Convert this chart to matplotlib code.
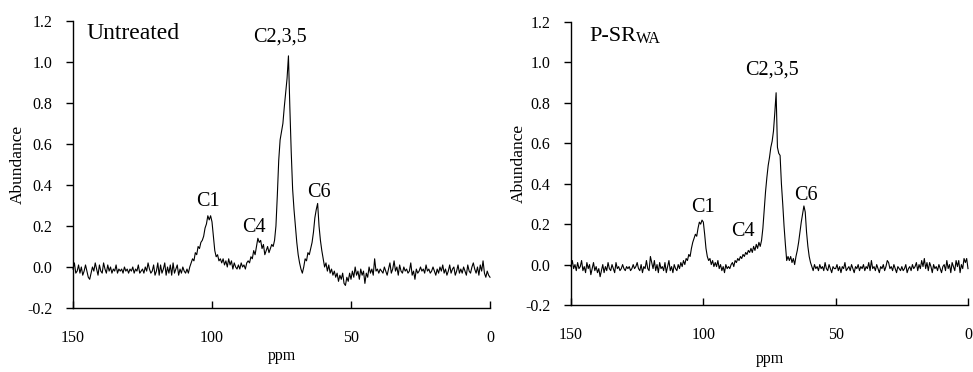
import numpy as np
import matplotlib
matplotlib.use('Agg')
import matplotlib.pyplot as plt
from matplotlib.ticker import FormatStrFormatter

plt.rcParams['font.family'] = 'Liberation Serif'
plt.rcParams['axes.unicode_minus'] = False

# chemical shift grid, 150 -> 0 ppm every 0.5 ppm
ppm = np.linspace(150, 0, 301)

# Untreated spectrum (150 ... 0 ppm)
untreated = [
    -0.01, 0.02, -0.03, -0.02, 0.01, -0.03, 0.00, -0.04, -0.02, 0.01,
    -0.02, -0.05, -0.06, -0.03, 0.00, -0.02, 0.02, -0.01, -0.04, 0.01,
    -0.02, -0.03, 0.02, -0.01, -0.03, 0.01, -0.02, 0.00, -0.03, -0.01,
    -0.02, 0.01, -0.03, -0.01, -0.02, -0.01, -0.03, 0.00, -0.02, -0.01,
    -0.03, -0.01, -0.02, 0.00, -0.03, -0.01, -0.02, 0.01, -0.03, -0.02,
    -0.01, -0.03, 0.00, -0.02, 0.02, -0.01, -0.03, -0.02, 0.01, -0.04,
    -0.02, 0.02, -0.04, 0.01, -0.03, -0.01, 0.02, -0.04, 0.00, -0.03,
    0.01, -0.04, 0.02, -0.03, -0.01, 0.01, -0.04, -0.01, -0.03, 0.00,
    -0.02, -0.03, -0.01, -0.03, 0.00, 0.02, 0.04, 0.03, 0.07, 0.06,
    0.10, 0.09, 0.12, 0.13, 0.15, 0.19, 0.21, 0.25, 0.23, 0.25,
    0.22, 0.15, 0.08, 0.05, 0.06, 0.03, 0.04, 0.02, 0.04, 0.01,
    0.03, 0.00, 0.04, 0.01, 0.03, -0.01, 0.02, 0.00, -0.01, 0.01,
    -0.01, 0.02, 0.00, 0.01, -0.01, 0.02, 0.03, 0.02, 0.05, 0.04,
    0.08, 0.06, 0.10, 0.14, 0.12, 0.13, 0.09, 0.11, 0.06, 0.08,
    0.10, 0.07, 0.09, 0.11, 0.10, 0.13, 0.20, 0.35, 0.52, 0.62,
    0.66, 0.70, 0.78, 0.85, 0.92, 1.03, 0.78, 0.56, 0.38, 0.28,
    0.20, 0.12, 0.06, 0.02, -0.01, -0.03, 0.00, 0.04, 0.03, 0.07,
    0.06, 0.09, 0.12, 0.17, 0.24, 0.28, 0.31, 0.20, 0.13, 0.08,
    0.04, 0.00, 0.02, -0.02, 0.01, -0.03, -0.01, -0.04, -0.02, -0.05,
    -0.03, -0.07, -0.04, -0.06, -0.03, -0.08, -0.09, -0.05, -0.07, -0.03,
    -0.06, -0.02, -0.05, 0.00, -0.04, -0.02, -0.06, -0.01, -0.04, -0.02,
    -0.08, -0.03, -0.05, 0.00, -0.03, -0.01, -0.04, 0.04, -0.02, -0.01,
    -0.03, -0.01, -0.02, -0.03, 0.00, -0.02, -0.04, -0.01, 0.02, -0.03,
    -0.01, 0.03, -0.02, 0.00, -0.04, 0.01, -0.02, -0.03, 0.00, -0.02,
    -0.01, -0.03, -0.02, 0.02, -0.04, -0.02, -0.06, -0.01, -0.03, -0.02,
    0.00, -0.02, -0.01, -0.03, 0.01, -0.02, -0.01, -0.03, -0.02, 0.00,
    -0.02, -0.04, -0.01, -0.03, 0.00, -0.02, 0.01, -0.03, -0.01, -0.04,
    -0.02, 0.01, -0.03, -0.01, 0.00, -0.04, -0.02, 0.01, -0.03, -0.01,
    -0.03, 0.00, -0.02, -0.04, 0.01, -0.02, -0.03, 0.00, 0.02, -0.01,
    -0.03, 0.00, -0.04, 0.01, -0.02, 0.03, -0.03, -0.05, -0.02, -0.04,
    -0.05,
]

# P-SR_WA spectrum (150 ... 0 ppm)
psr_wa = [
    -0.01, 0.02, -0.02, 0.00, -0.03, 0.01, -0.02, -0.01, 0.02, -0.03,
    -0.01, -0.04, 0.01, -0.02, 0.00, -0.05, -0.02, 0.01, -0.03, -0.01,
    -0.04, -0.02, -0.06, -0.03, 0.00, -0.04, -0.01, -0.03, 0.01, -0.02,
    -0.03, 0.00, -0.02, -0.04, 0.01, -0.02, -0.01, -0.03, -0.02, 0.00,
    -0.02, -0.03, -0.01, -0.02, -0.01, -0.03, -0.02, 0.00, -0.02, -0.01,
    0.01, -0.02, -0.03, 0.00, -0.04, -0.01, -0.02, 0.02, -0.02, -0.03,
    0.04, 0.01, -0.02, 0.02, -0.03, 0.00, -0.04, 0.01, -0.02, -0.01,
    -0.03, 0.01, -0.04, -0.01, 0.02, -0.03, -0.01, -0.04, 0.00, -0.02,
    -0.03, 0.00, -0.02, 0.01, -0.01, 0.02, 0.00, 0.03, 0.02, 0.05,
    0.04, 0.08, 0.11, 0.13, 0.15, 0.14, 0.18, 0.21, 0.20, 0.22,
    0.21, 0.15, 0.08, 0.04, 0.02, 0.03, 0.00, 0.02, -0.01, 0.01,
    -0.01, 0.02, -0.02, 0.00, -0.03, -0.01, -0.04, 0.00, -0.02, -0.01,
    -0.02, 0.00, 0.01, -0.01, 0.02, 0.01, 0.03, 0.02, 0.04, 0.03,
    0.05, 0.04, 0.06, 0.05, 0.07, 0.06, 0.08, 0.06, 0.09, 0.07,
    0.10, 0.08, 0.11, 0.09, 0.12, 0.18, 0.27, 0.36, 0.43, 0.49,
    0.53, 0.58, 0.61, 0.66, 0.75, 0.85, 0.58, 0.55, 0.54, 0.40,
    0.30, 0.19, 0.10, 0.02, 0.04, 0.02, 0.04, 0.01, 0.03, 0.00,
    0.04, 0.07, 0.11, 0.16, 0.21, 0.25, 0.29, 0.26, 0.16, 0.09,
    0.04, 0.01, -0.01, -0.03, 0.00, -0.02, -0.01, -0.03, 0.00, -0.02,
    -0.01, -0.03, 0.01, -0.02, -0.03, 0.00, -0.02, -0.04, -0.01, -0.02,
    -0.02, 0.00, -0.03, -0.01, -0.04, -0.01, -0.02, 0.01, -0.03, -0.02,
    -0.01, -0.03, 0.00, -0.02, -0.04, -0.01, -0.02, 0.00, -0.03, -0.01,
    -0.02, 0.00, -0.03, -0.01, -0.02, 0.01, -0.03, 0.02, -0.02, -0.01,
    -0.03, 0.00, -0.02, -0.04, -0.01, -0.02, 0.00, -0.03, -0.01, 0.02,
    0.01, -0.02, -0.01, -0.03, 0.00, -0.02, -0.04, -0.01, -0.02, -0.03,
    -0.01, -0.03, -0.02, 0.00, -0.04, -0.02, -0.01, -0.03, 0.00, -0.02,
    -0.01, 0.01, -0.03, 0.00, -0.02, 0.02, -0.01, 0.03, -0.02, 0.01,
    -0.03, 0.01, -0.01, -0.04, 0.00, -0.02, -0.01, -0.03, 0.00, -0.02,
    -0.04, -0.01, 0.00, -0.03, 0.02, -0.02, 0.00, -0.04, 0.01, -0.01,
    -0.03, 0.02, -0.01, 0.02, -0.04, 0.00, -0.02, 0.03, 0.01, 0.03,
    -0.02,
]

peak_names = ['C1', 'C4', 'C2,3,5', 'C6']
# label anchor (ppm, abundance) for each panel
untreated_label_pos = [(101.6, 0.30), (84.9, 0.17), (75.4, 1.10), (61.6, 0.34)]
psr_label_pos = [(100.3, 0.26), (85.1, 0.14), (74.0, 0.94), (61.3, 0.32)]

W, H = 973, 372
fig = plt.figure(figsize=(W / 100, H / 100), dpi=100)
ax1 = fig.add_axes([73 / W, 1 - 308 / H, (490 - 73) / W, (308 - 21) / H])
ax2 = fig.add_axes([571 / W, 1 - 305 / H, (968 - 571) / W, (305 - 22) / H])


def style(ax):
    ax.set_xlim(150, 0)
    ax.set_ylim(-0.2, 1.2)
    ax.set_xticks([150, 100, 50, 0])
    ax.set_yticks(np.arange(-0.2, 1.21, 0.2))
    ax.yaxis.set_major_formatter(FormatStrFormatter('%.1f'))
    for s in ['top', 'right']:
        ax.spines[s].set_visible(False)
    for s in ['left', 'bottom']:
        ax.spines[s].set_linewidth(1.0)
    ax.tick_params(axis='x', direction='in', length=5, width=1, pad=16, labelsize=11.5)
    ax.tick_params(axis='y', direction='out', length=5, width=1, pad=10, labelsize=11.5)
    ax.set_ylabel('Abundance', fontsize=12.5)
    ax.set_xlabel('ppm', fontsize=11.5)


for ax, y, pos in [(ax1, untreated, untreated_label_pos), (ax2, psr_wa, psr_label_pos)]:
    ax.plot(ppm, y, color='black', linewidth=0.8, clip_on=False)
    style(ax)
    for name, (x0, y0) in zip(peak_names, pos):
        ax.text(x0, y0, name, ha='center', va='baseline', fontsize=14.5)

ax1.yaxis.set_label_coords(-0.112, 0.5)
ax2.yaxis.set_label_coords(-0.112, 0.5)
ax1.xaxis.set_label_coords(0.5, -0.138)
ax2.xaxis.set_label_coords(0.5, -0.164)

ax1.text(145.0, 1.11, 'Untreated', ha='left', va='baseline', fontsize=17)
t = ax2.text(143.2, 1.108, 'P-SR', ha='left', va='baseline', fontsize=16)
ax2.annotate('WA', xy=(1, 0), xycoords=t, xytext=(0, -1), textcoords='offset points',
             ha='left', va='bottom', fontsize=11.5)

fig.savefig('out.png', dpi=100)
